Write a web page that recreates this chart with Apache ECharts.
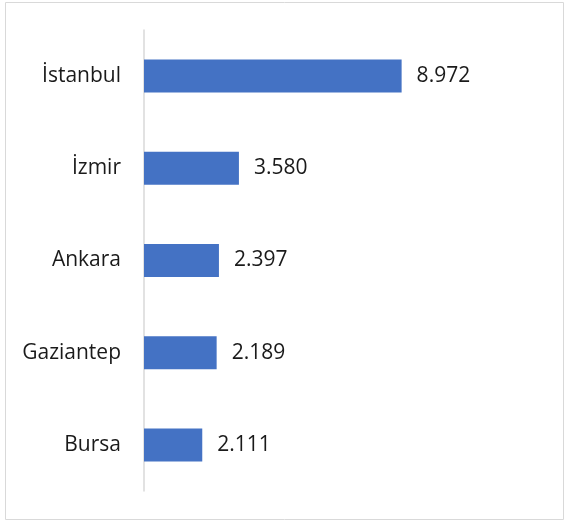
<!DOCTYPE html>
<html>
<head>
<meta charset="utf-8">
<script src="https://cdn.jsdelivr.net/npm/echarts@6/dist/echarts.min.js"></script>
<style>
  html, body { margin: 0; padding: 0; background: #fff; }
  #main { width: 568px; height: 522px; }
</style>
</head>
<body>
<div id="main"></div>
<script>
  // şehirler
  var cities = ['İstanbul', 'İzmir', 'Ankara', 'Gaziantep', 'Bursa']
  // bar boyları
  var barValues = [8972, 3306, 2610, 2530, 2029]
  // etiket yazıları
  var labelTexts = ['8.972', '3.580', '2.397', '2.189', '2.111']

  var myChart = echarts.init(document.getElementById('main'))
  myChart.setOption({
    animation: false,
    textStyle: { fontFamily: 'Open Sans' },
    graphic: [{
      type: 'rect',
      shape: { x: 5.5, y: 2.5, width: 558, height: 517 },
      style: { fill: 'none', stroke: '#d9d9d9', lineWidth: 1 },
      silent: true
    }],
    grid: {
      left: 144,
      top: 30,
      width: 402,
      height: 461
    },
    xAxis: {
      type: 'value',
      min: 0,
      max: 14000,
      show: false
    },
    yAxis: {
      type: 'category',
      inverse: true,
      data: cities,
      axisTick: { show: false },
      axisLine: { lineStyle: { color: '#d9d9d9', width: 1.5 } },
      axisLabel: { color: '#1a1a1a', fontSize: 21, margin: 23 }
    },
    series: [{
      type: 'bar',
      data: barValues,
      barWidth: 33,
      itemStyle: { color: '#4472C4' },
      label: {
        show: true,
        position: 'right',
        distance: 15,
        color: '#1a1a1a',
        fontSize: 21,
        formatter: function (p) {
          return labelTexts[p.dataIndex]
        }
      }
    }]
  })
</script>
</body>
</html>
